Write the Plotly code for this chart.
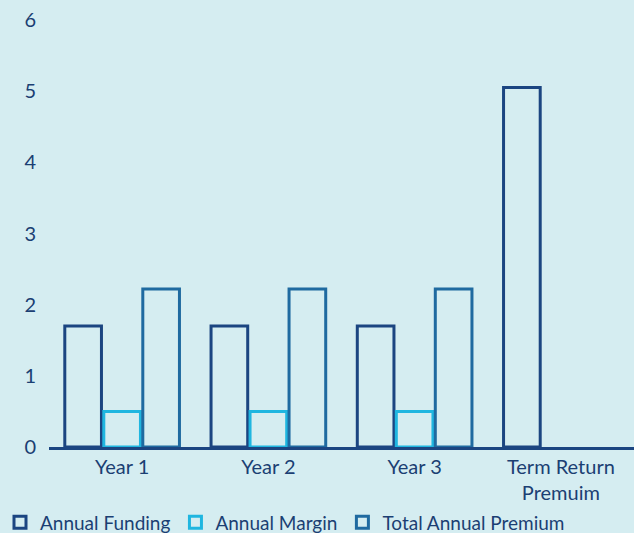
import plotly.graph_objects as go

categories = ["Year 1", "Year 2", "Year 3", "Term Return<br>Premuim"]
annual_funding = [1.7, 1.7, 1.7, 5.05]
annual_margin = [0.5, 0.5, 0.5, None]
total_annual_premium = [2.22, 2.22, 2.22, None]

bg = "#d5edf1"
navy = "#1b4581"
cyan = "#1fb6e0"
mid = "#1f6aa0"
text = "#1b3f73"

fig = go.Figure()
for name, vals, col in [("Annual Funding", annual_funding, navy),
                        ("Annual Margin", annual_margin, cyan),
                        ("Total Annual Premium", total_annual_premium, mid)]:
    fig.add_trace(go.Bar(x=categories, y=vals, name=name,
                         marker=dict(color="rgba(0,0,0,0)", line=dict(color=col, width=3))))

fig.update_layout(
    width=634, height=533,
    paper_bgcolor=bg, plot_bgcolor=bg,
    margin=dict(l=49, r=0, t=20, b=86, autoexpand=False),
    barmode="group", bargap=0.2, bargroupgap=0.06,
    font=dict(family="Lato", color=text, size=20),
    showlegend=True,
    legend=dict(orientation="h", yref="container", y=0.02, yanchor="middle",
                xref="container", x=-0.015, xanchor="left", font=dict(size=19),
                itemwidth=30, traceorder="normal", bgcolor="rgba(0,0,0,0)"),
    xaxis=dict(showline=True, linecolor=navy, linewidth=3, showgrid=False, ticks="",
               tickfont=dict(size=20)),
    yaxis=dict(range=[0, 6], dtick=1, showgrid=False, zeroline=False, showline=False,
               ticks="outside", ticklen=8, tickcolor="rgba(0,0,0,0)", tickfont=dict(size=20)),
)
fig.write_html("out.html")
